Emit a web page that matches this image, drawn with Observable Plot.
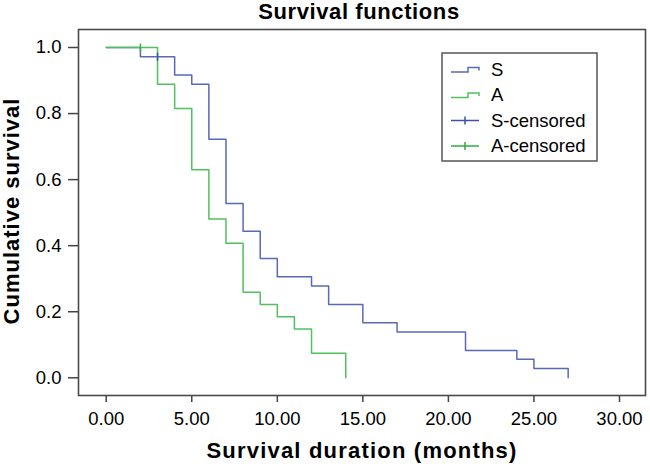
<!DOCTYPE html>
<html><head><meta charset="utf-8">
<script src="https://cdn.jsdelivr.net/npm/d3@7"></script>
<script src="https://cdn.jsdelivr.net/npm/@observablehq/plot@0.6"></script>
<style>body{margin:0;background:#fff} svg{display:block}</style>
</head><body><div id="chart"></div>
<script>
// Kaplan-Meier step data
const sTime = [0, 2, 4, 5, 6, 7, 8, 9, 10, 12, 13, 15, 17, 21, 24, 25, 27];
const sSurv = [1, 0.972, 0.917, 0.889, 0.722, 0.528, 0.444, 0.361, 0.306, 0.278, 0.222, 0.167, 0.139, 0.083, 0.056, 0.028, 0];
const aTime = [0, 3, 4, 5, 6, 7, 8, 9, 10, 11, 12, 14];
const aSurv = [1, 0.889, 0.815, 0.630, 0.481, 0.407, 0.259, 0.222, 0.185, 0.148, 0.074, 0];
const sCensTime = [3], sCensSurv = [0.972];
const aCensTime = [2], aCensSurv = [1];
const xTicks = [0, 5, 10, 15, 20, 25, 30];
const yTicks = [0, 0.2, 0.4, 0.6, 0.8, 1.0];
const legendNames = ["S", "A", "S-censored", "A-censored"];
const titleText = "Survival functions";
const xTitle = "Survival duration (months)";
const yTitle = "Cumulative survival";

const blue = "#5a69b6", green = "#50c25d";
const sData = sTime.map((t, i) => ({t, s: sSurv[i]}));
const aData = aTime.map((t, i) => ({t, s: aSurv[i]}));
const sCens = sCensTime.map((t, i) => ({t, s: sCensSurv[i]}));
const aCens = aCensTime.map((t, i) => ({t, s: aCensSurv[i]}));

const vtick = {draw(ctx, size) { const r = Math.sqrt(size / Math.PI); ctx.moveTo(0, -r); ctx.lineTo(0, r); }};

const plot = Plot.plot({
  width: 650, height: 464,
  marginLeft: 78, marginRight: 5, marginTop: 29, marginBottom: 69,
  style: {fontFamily: "'Liberation Sans', Arial, sans-serif", fontSize: "18.5px", color: "#000", background: "#fff"},
  x: {domain: [-1.62, 31.52]},
  y: {domain: [-0.0536, 1.0545]},
  marks: [
    Plot.axisX({ticks: xTicks, tickFormat: d3.format(".2f"), tickSize: 7, tickPadding: 9, stroke: "#444", strokeWidth: 1.5, label: null}),
    Plot.axisY({ticks: yTicks, tickFormat: d3.format(".1f"), tickSize: 10, tickPadding: 7, stroke: "#444", strokeWidth: 1.5, label: null}),
    Plot.line(sData, {x: "t", y: "s", curve: "step-after", stroke: blue, strokeWidth: 1.5}),
    Plot.line(aData, {x: "t", y: "s", curve: "step-after", stroke: green, strokeWidth: 1.5}),
    Plot.dot(sCens, {x: "t", y: "s", symbol: vtick, r: 4, stroke: "#3e4fa8", strokeWidth: 1.5, fill: "none"}),
    Plot.dot(aCens, {x: "t", y: "s", symbol: vtick, r: 4, stroke: "#2fae3e", strokeWidth: 1.5, fill: "none"}),
    Plot.frame({stroke: "#4a4a4a", strokeWidth: 1.6})
  ]
});
document.getElementById("chart").appendChild(plot);

const svg = d3.select(plot);
const ff = "'Liberation Sans', Arial, sans-serif";
svg.append("text").attr("x", 359).attr("y", 19).attr("text-anchor", "middle")
  .attr("font-family", ff).attr("font-weight", "bold").attr("font-size", 22).attr("letter-spacing", "0.6px").attr("fill", "#000").text(titleText);
svg.append("text").attr("x", 362).attr("y", 458).attr("text-anchor", "middle")
  .attr("font-family", ff).attr("font-weight", "bold").attr("font-size", 22).attr("letter-spacing", "1.2px").attr("fill", "#000").text(xTitle);
svg.append("text").attr("transform", "translate(18.5,211) rotate(-90)").attr("text-anchor", "middle")
  .attr("font-family", ff).attr("font-weight", "bold").attr("font-size", 22).attr("letter-spacing", "1px").attr("fill", "#000").text(yTitle);

// legend
const lg = svg.append("g");
lg.append("rect").attr("x", 442).attr("y", 53).attr("width", 155).attr("height", 108)
  .attr("fill", "#fff").attr("stroke", "#555").attr("stroke-width", 1.5);
const legendColors = [blue, green, "#3e4fa8", "#2fae3e"];
const centers = [69.5, 95, 120.5, 146];
legendNames.forEach((name, i) => {
  const c = centers[i], col = legendColors[i];
  if (i < 2) {
    lg.append("path").attr("d", `M451,${c + 2.5}H468V${c - 2}H479V${c + 1}`).attr("fill", "none").attr("stroke", col).attr("stroke-width", 1.5);
  } else {
    lg.append("path").attr("d", `M451,${c}H479M465,${c - 4}V${c + 4}`).attr("fill", "none").attr("stroke", col).attr("stroke-width", 1.5);
  }
  lg.append("text").attr("x", 491).attr("y", c).attr("dy", "0.35em").attr("text-anchor", "start").attr("font-family", ff)
    .attr("font-size", 18.5).attr("fill", "#000").text(name);
});
</script></body></html>
